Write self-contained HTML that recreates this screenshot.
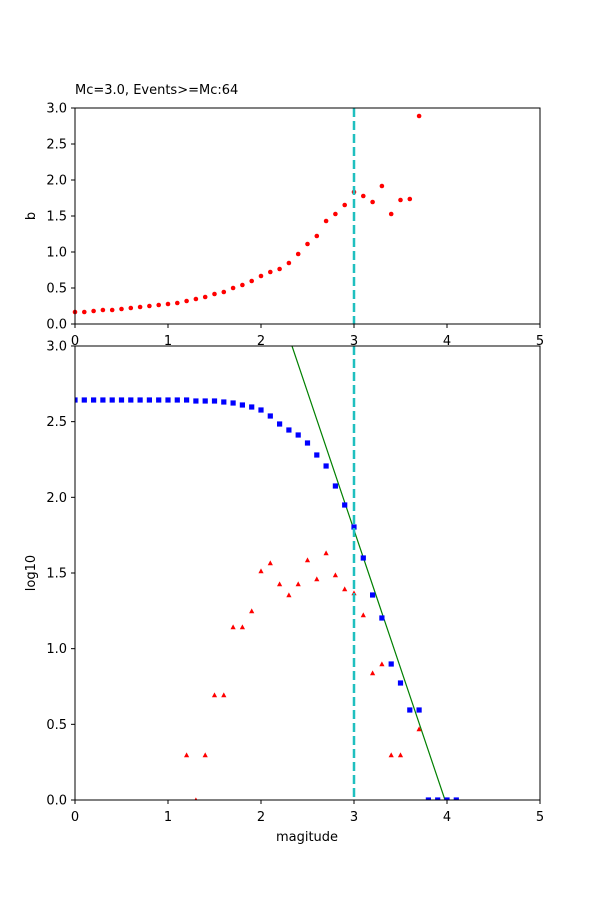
<!DOCTYPE html>
<html><head><meta charset="utf-8"><style>
html,body{margin:0;padding:0;background:#fff;}
svg{display:block;font-family:"DejaVu Sans","Liberation Sans",sans-serif;}
</style></head><body>
<svg id="s" width="600" height="900" xmlns="http://www.w3.org/2000/svg">
<rect width="600" height="900" fill="#fff"/>
<g id="g"></g>
</svg>
<script>
const g=document.getElementById('g');
let h='';
const X=m=>75+m*93;
const bT=[312,312,311,310,310,309,308,307,306,305,304,303,301,299,297,294,292,288,285,281,276,272,269,263,254,244,236,221,214,205,192,196,202,186,214,200,199,116];
bT.forEach((y,i)=>{h+=`<circle cx="${X(i/10)}" cy="${y}" r="2.3" fill="red"/>`;});
h+=`<defs><clipPath id="c"><rect x="75" y="346" width="465" height="454"/></clipPath></defs>`;
const sq=[400,400,400,400,400,400,400,400,400,400,400,400,400,401,401,401,402,403,405,407,410,416,424,430,435,443,455,466,486,505,527,558,595,618,664,683,710,710,800,800,800,800];
h+=`<g clip-path="url(#c)">`;
h+=`<line x1="292" y1="346" x2="445" y2="800" stroke="green" stroke-width="1.2"/>`;
sq.forEach((y,i)=>{h+=`<rect x="${X(i/10)-2.6}" y="${y-2.6}" width="5.2" height="5.2" fill="blue"/>`;});
const tr={12:755,13:800,14:755,15:695,16:695,17:627,18:627,19:611,20:571,21:563,22:584,23:595,24:584,25:560,26:579,27:553,28:575,29:589,30:593,31:615,32:673,33:664,34:755,35:755,37:729};
for(const k in tr){const x=X(k/10),y=tr[k];h+=`<polygon points="${x-2.6},${y+2.2} ${x+2.6},${y+2.2} ${x},${y-2.6}" fill="red"/>`;}
h+=`</g>`;
h+=`<line x1="354" y1="108" x2="354" y2="324" stroke="#1fbfbf" stroke-width="2.5" stroke-dasharray="9,4"/>`;
h+=`<line x1="354" y1="346" x2="354" y2="800" stroke="#1fbfbf" stroke-width="2.5" stroke-dasharray="9,4"/>`;
h+=`<rect x="75" y="108" width="465" height="216" fill="none" stroke="#000" stroke-width="1"/>`;
h+=`<rect x="75" y="346" width="465" height="454" fill="none" stroke="#000" stroke-width="1"/>`;
for(let i=0;i<=5;i++){const x=X(i);
 h+=`<line x1="${x}" y1="324" x2="${x}" y2="328" stroke="#000"/><text x="${x}" y="345" font-size="13" text-anchor="middle">${i}</text>`;
 h+=`<line x1="${x}" y1="800" x2="${x}" y2="804" stroke="#000"/><text x="${x}" y="821" font-size="13" text-anchor="middle">${i}</text>`;}
for(let i=0;i<=6;i++){const v=(i*0.5).toFixed(1);
 const y1=324-i*36; h+=`<line x1="71" y1="${y1}" x2="75" y2="${y1}" stroke="#000"/><text x="67" y="${y1+4.5}" font-size="13" text-anchor="end">${v}</text>`;
 const y2=800-i*75.67; h+=`<line x1="71" y1="${y2}" x2="75" y2="${y2}" stroke="#000"/><text x="67" y="${y2+4.5}" font-size="13" text-anchor="end">${v}</text>`;}
h+=`<text x="75" y="94" font-size="13">Mc=3.0, Events&gt;=Mc:64</text>`;
h+=`<text x="35" y="216" font-size="13" text-anchor="middle" transform="rotate(-90 35 216)">b</text>`;
h+=`<text x="35" y="573" font-size="13" text-anchor="middle" transform="rotate(-90 35 573)">log10</text>`;
h+=`<text x="307" y="841" font-size="13" text-anchor="middle">magitude</text>`;
g.innerHTML=h;
</script>
</body></html>
